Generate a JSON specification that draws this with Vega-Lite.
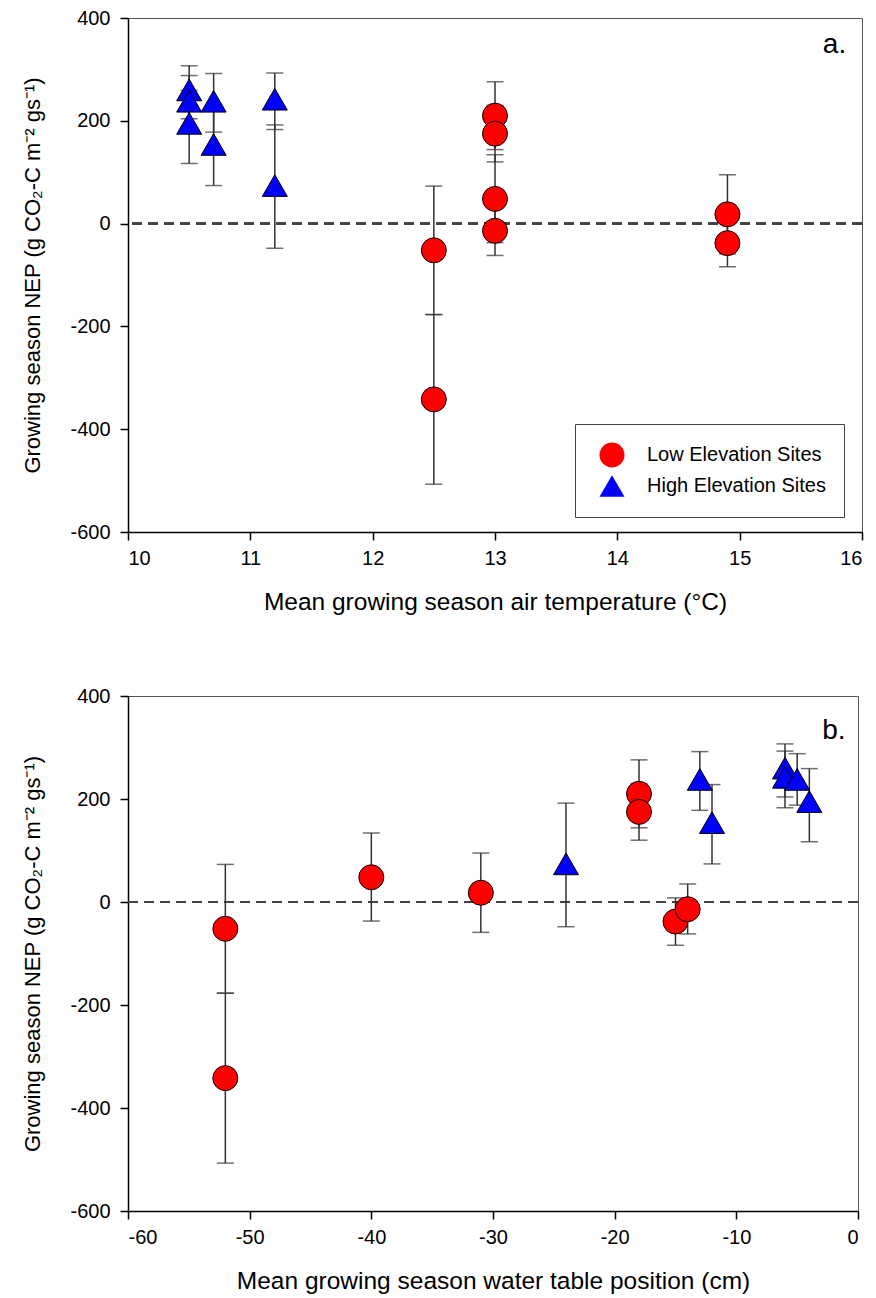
{
  "$schema": "https://vega.github.io/schema/vega-lite/v6.json",
  "background": "white",
  "padding": {"left": 21, "top": 7, "right": 5, "bottom": 5},
  "spacing": 71,
  "datasets": {
    "sites": [
      {"elev": "Low Elevation Sites", "temp": 12.5, "wt": -52, "nep": -52, "lo": -177, "hi": 73},
      {"elev": "Low Elevation Sites", "temp": 12.5, "wt": -52, "nep": -342, "lo": -507, "hi": -177},
      {"elev": "Low Elevation Sites", "temp": 13.0, "wt": -40, "nep": 48, "lo": -37, "hi": 134},
      {"elev": "Low Elevation Sites", "temp": 14.9, "wt": -31, "nep": 18, "lo": -59, "hi": 95},
      {"elev": "Low Elevation Sites", "temp": 13.0, "wt": -18, "nep": 210, "lo": 144, "hi": 276},
      {"elev": "Low Elevation Sites", "temp": 13.0, "wt": -18, "nep": 175, "lo": 120, "hi": 230},
      {"elev": "Low Elevation Sites", "temp": 14.9, "wt": -15, "nep": -38, "lo": -84, "hi": 8},
      {"elev": "Low Elevation Sites", "temp": 13.0, "wt": -14, "nep": -14, "lo": -62, "hi": 35},
      {"elev": "High Elevation Sites", "temp": 11.2, "wt": -24, "nep": 74, "lo": -48, "hi": 192},
      {"elev": "High Elevation Sites", "temp": 10.7, "wt": -13, "nep": 238, "lo": 178, "hi": 292},
      {"elev": "High Elevation Sites", "temp": 10.7, "wt": -12, "nep": 154, "lo": 74, "hi": 228},
      {"elev": "High Elevation Sites", "temp": 10.5, "wt": -6, "nep": 260, "lo": 204, "hi": 307},
      {"elev": "High Elevation Sites", "temp": 11.2, "wt": -6, "nep": 242, "lo": 183, "hi": 293},
      {"elev": "High Elevation Sites", "temp": 10.5, "wt": -5, "nep": 238, "lo": 188, "hi": 288},
      {"elev": "High Elevation Sites", "temp": 10.5, "wt": -4, "nep": 195, "lo": 117, "hi": 259}
    ]
  },
  "config": {
    "font": "Liberation Sans",
    "view": {"stroke": "#555", "strokeWidth": 1},
    "axis": {
      "grid": false,
      "domainColor": "#000",
      "domainWidth": 1.5,
      "tickColor": "#000",
      "tickWidth": 1.5,
      "tickSize": 8,
      "labelFontSize": 20,
      "labelColor": "#000",
      "labelExpr": "'' + datum.value",
      "titleFontWeight": "normal",
      "titleColor": "#000"
    },
    "axisX": {"labelPadding": 8, "titleFontSize": 24.5, "titlePadding": 22},
    "axisY": {"labelPadding": 10, "titleFontSize": 22, "titlePadding": 25},
    "legend": {
      "symbolSize": 625,
      "symbolStrokeColor": "#000",
      "symbolStrokeWidth": 1,
      "symbolOpacity": 1,
      "symbolOffset": 6,
      "labelFontSize": 20,
      "labelColor": "#000",
      "labelOffset": 22,
      "labelLimit": 400,
      "rowPadding": 3,
      "padding": 18,
      "strokeColor": "#444",
      "fillColor": "#fff"
    }
  },
  "resolve": {"legend": {"fill": "independent", "shape": "independent"}},
  "vconcat": [
    {
      "width": 734,
      "height": 514,
      "data": {"name": "sites"},
      "layer": [
        {
          "mark": {"type": "rule", "strokeDash": [10, 6], "color": "#444", "strokeWidth": 1.5},
          "encoding": {
            "y": {"datum": 0, "type": "quantitative", "scale": {"domain": [-600, 400], "nice": false}, "axis": {"values": [-600, -400, -200, 0, 200, 400], "title": "Growing season NEP (g CO₂-C m⁻² gs⁻¹)"}}
          }
        },
        {
          "mark": {"type": "rule", "color": "#333", "strokeWidth": 1.5},
          "encoding": {
            "x": {"field": "temp", "type": "quantitative", "scale": {"domain": [10, 16], "nice": false, "zero": false}, "axis": {"values": [10, 11, 12, 13, 14, 15, 16], "title": "Mean growing season air temperature (°C)"}},
            "y": {"field": "lo", "type": "quantitative", "title": "Growing season NEP (g CO₂-C m⁻² gs⁻¹)"},
            "y2": {"field": "hi"}
          }
        },
        {
          "mark": {"type": "tick", "orient": "horizontal", "size": 17, "thickness": 1.5, "color": "#333"},
          "encoding": {
            "x": {"field": "temp", "type": "quantitative", "title": "Mean growing season air temperature (°C)"},
            "y": {"field": "lo", "type": "quantitative", "title": "Growing season NEP (g CO₂-C m⁻² gs⁻¹)"}
          }
        },
        {
          "mark": {"type": "tick", "orient": "horizontal", "size": 17, "thickness": 1.5, "color": "#333"},
          "encoding": {
            "x": {"field": "temp", "type": "quantitative", "title": "Mean growing season air temperature (°C)"},
            "y": {"field": "hi", "type": "quantitative", "title": "Growing season NEP (g CO₂-C m⁻² gs⁻¹)"}
          }
        },
        {
          "mark": {"type": "point", "filled": true, "size": 625, "stroke": "#000", "strokeWidth": 1, "opacity": 1},
          "encoding": {
            "x": {"field": "temp", "type": "quantitative", "title": "Mean growing season air temperature (°C)"},
            "y": {"field": "nep", "type": "quantitative", "title": "Growing season NEP (g CO₂-C m⁻² gs⁻¹)"},
            "fill": {"field": "elev", "type": "nominal", "title": null, "scale": {"domain": ["Low Elevation Sites", "High Elevation Sites"], "range": ["#FF0000", "#0000FF"]}, "legend": {"orient": "none", "legendX": 447, "legendY": 406}},
            "shape": {"field": "elev", "type": "nominal", "title": null, "scale": {"domain": ["Low Elevation Sites", "High Elevation Sites"], "range": ["circle", "triangle-up"]}, "legend": {"orient": "none", "legendX": 447, "legendY": 406}}
          }
        },
        {
          "data": {"values": [{"px": 15.68, "py": 332, "label": "a."}]},
          "mark": {"type": "text", "fontSize": 28, "align": "left", "baseline": "alphabetic", "color": "#000"},
          "encoding": {
            "x": {"field": "px", "type": "quantitative", "title": "Mean growing season air temperature (°C)"},
            "y": {"field": "py", "type": "quantitative", "title": "Growing season NEP (g CO₂-C m⁻² gs⁻¹)"},
            "text": {"field": "label"}
          }
        }
      ]
    },
    {
      "width": 730,
      "height": 515,
      "data": {"name": "sites"},
      "layer": [
        {
          "mark": {"type": "rule", "strokeDash": [10, 6], "color": "#444", "strokeWidth": 1.5},
          "encoding": {
            "y": {"datum": 0, "type": "quantitative", "scale": {"domain": [-600, 400], "nice": false}, "axis": {"values": [-600, -400, -200, 0, 200, 400], "title": "Growing season NEP (g CO₂-C m⁻² gs⁻¹)"}}
          }
        },
        {
          "mark": {"type": "rule", "color": "#333", "strokeWidth": 1.5},
          "encoding": {
            "x": {"field": "wt", "type": "quantitative", "scale": {"domain": [-60, 0], "nice": false, "zero": false}, "axis": {"values": [-60, -50, -40, -30, -20, -10, 0], "title": "Mean growing season water table position (cm)"}},
            "y": {"field": "lo", "type": "quantitative", "title": "Growing season NEP (g CO₂-C m⁻² gs⁻¹)"},
            "y2": {"field": "hi"}
          }
        },
        {
          "mark": {"type": "tick", "orient": "horizontal", "size": 17, "thickness": 1.5, "color": "#333"},
          "encoding": {
            "x": {"field": "wt", "type": "quantitative", "title": "Mean growing season water table position (cm)"},
            "y": {"field": "lo", "type": "quantitative", "title": "Growing season NEP (g CO₂-C m⁻² gs⁻¹)"}
          }
        },
        {
          "mark": {"type": "tick", "orient": "horizontal", "size": 17, "thickness": 1.5, "color": "#333"},
          "encoding": {
            "x": {"field": "wt", "type": "quantitative", "title": "Mean growing season water table position (cm)"},
            "y": {"field": "hi", "type": "quantitative", "title": "Growing season NEP (g CO₂-C m⁻² gs⁻¹)"}
          }
        },
        {
          "mark": {"type": "point", "filled": true, "size": 625, "stroke": "#000", "strokeWidth": 1, "opacity": 1},
          "encoding": {
            "x": {"field": "wt", "type": "quantitative", "title": "Mean growing season water table position (cm)"},
            "y": {"field": "nep", "type": "quantitative", "title": "Growing season NEP (g CO₂-C m⁻² gs⁻¹)"},
            "fill": {"field": "elev", "type": "nominal", "title": null, "scale": {"domain": ["Low Elevation Sites", "High Elevation Sites"], "range": ["#FF0000", "#0000FF"]}, "legend": null},
            "shape": {"field": "elev", "type": "nominal", "title": null, "scale": {"domain": ["Low Elevation Sites", "High Elevation Sites"], "range": ["circle", "triangle-up"]}, "legend": null}
          }
        },
        {
          "data": {"values": [{"px": -2.94, "py": 316, "label": "b."}]},
          "mark": {"type": "text", "fontSize": 28, "align": "left", "baseline": "alphabetic", "color": "#000"},
          "encoding": {
            "x": {"field": "px", "type": "quantitative", "title": "Mean growing season water table position (cm)"},
            "y": {"field": "py", "type": "quantitative", "title": "Growing season NEP (g CO₂-C m⁻² gs⁻¹)"},
            "text": {"field": "label"}
          }
        }
      ]
    }
  ]
}
